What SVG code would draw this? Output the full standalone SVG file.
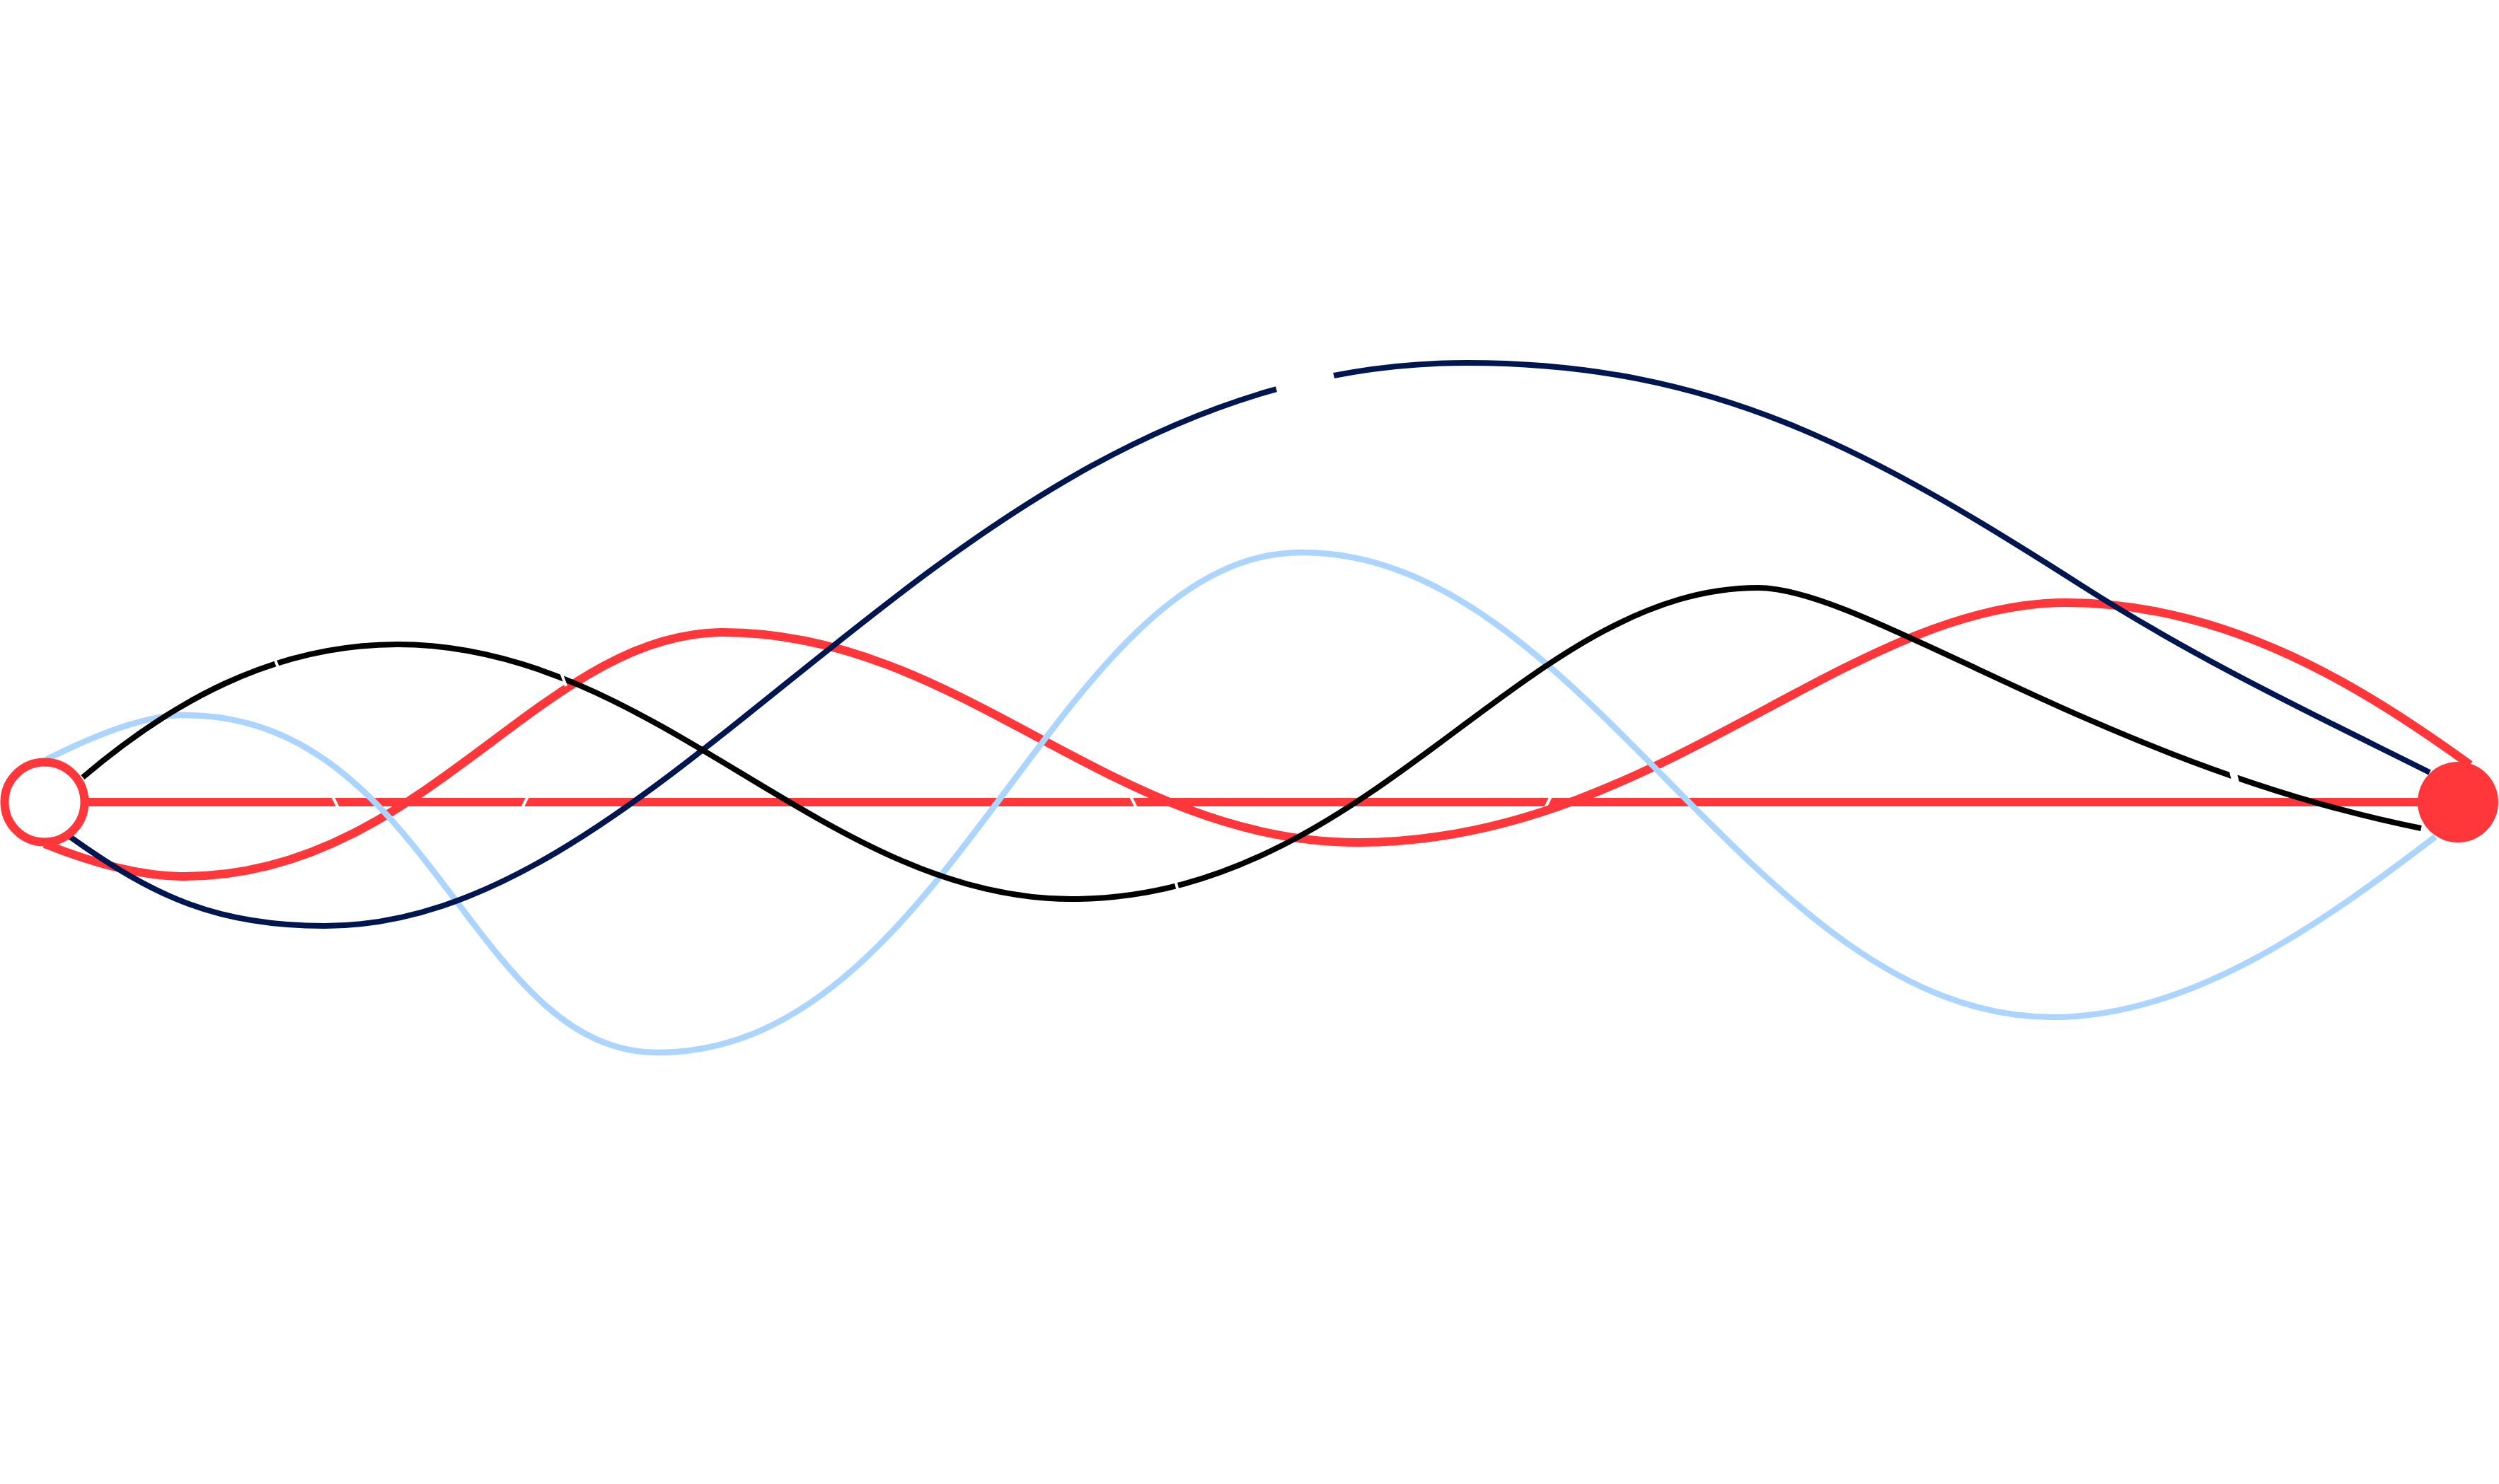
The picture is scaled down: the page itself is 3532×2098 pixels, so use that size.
<svg xmlns="http://www.w3.org/2000/svg" width="3532" height="2098" viewBox="0 0 3532 2098">
<style>
.e{fill:none;stroke-linecap:butt;stroke-linejoin:round}
.red{stroke:#ff363a;stroke-width:12}
.line{stroke:#ff363a;stroke-width:12}
.blue{stroke:#abd4fe;stroke-width:8.5}
.navy{stroke:#001650;stroke-width:8}
.blk{stroke:#000000;stroke-width:8}
.gap{stroke:#ffffff;stroke-width:4;fill:none}
</style>
<rect width="3532" height="2098" fill="#ffffff"/>
<g id="connectors">
<path class="e line" d="M118 1134 H3474"/>
<g class="gap">
<path d="M470 1126 L478 1142"/>
<path d="M746 1126 L738 1142"/>
<path d="M1598 1126 L1606 1142"/>
<path d="M2192 1126 L2184 1142"/>
</g>
<path class="e red" d="M63 1193 C133 1221 200 1239 260 1239 C598 1239 764 894 1022 894 C1359 894 1572 1191 1920 1191 C2336 1191 2611 852 2920 852 C3150 852 3341 973 3491 1081"/>
<path class="e blue" d="M65 1074 C125 1044 200 1011 260 1011 C610 1011 664 1488 930 1488 C1344 1488 1491 781 1840 781 C2244 781 2476 1438 2902 1438 C3102 1438 3292 1297 3442 1183"/>
<path class="e navy" d="M99 1183 C219 1269 309 1309 459 1309 C960 1309 1342.5 513 2073 513 C2423 513 2644 637 2944 829 C3107 933.3 3271 1010.5 3434 1092"/>
<path d="M1804 550.5 L1885 530.5" stroke="#ffffff" stroke-width="14" fill="none"/>
<path class="e blk" d="M117 1099 C237 997 382 911 562 911 C926 911 1166 1271 1514 1271 C1938 1271 2153 831 2485 831 C2635 831 2972 1081 3422 1171"/>
<g class="gap">
<path d="M386 925 L395 949"/>
<path d="M792 948 L800 970"/>
<path d="M1660 1240 L1666 1264"/>
<path d="M3155 1086 L3162 1116" stroke-width="10"/>
</g>
</g>
<g id="node-left">
<circle cx="63" cy="1134" r="56.5" fill="#ffffff" stroke="#ff363a" stroke-width="12"/>
</g>
<g id="node-right">
<circle cx="3474" cy="1134" r="57" fill="#ff363a"/>
</g>
</svg>
